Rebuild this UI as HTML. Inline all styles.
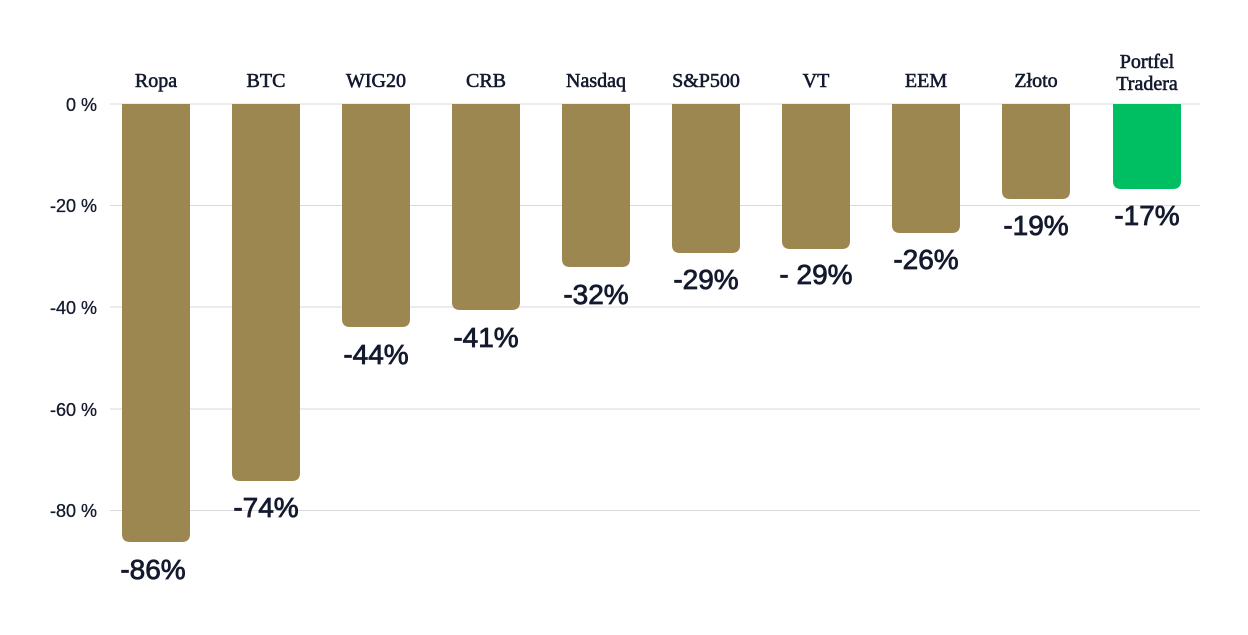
<!DOCTYPE html>
<html><head><style>body{margin:0;background:#fff}</style></head><body>
<svg width="1248" height="630" xmlns="http://www.w3.org/2000/svg" font-family="Liberation Sans, sans-serif">
<g stroke="#d9d9df" stroke-width="1">
<line x1="110" y1="104" x2="1200" y2="104"/>
<line x1="110" y1="205.5" x2="1200" y2="205.5"/>
<line x1="110" y1="307" x2="1200" y2="307"/>
<line x1="110" y1="409" x2="1200" y2="409"/>
<line x1="110" y1="510.5" x2="1200" y2="510.5"/>
</g>
<g fill="#141a2e" font-size="18" text-anchor="end" stroke="#141a2e" stroke-width="0.3">
<text x="97" y="111">0 %</text>
<text x="97" y="212">-20 %</text>
<text x="97" y="314">-40 %</text>
<text x="97" y="416">-60 %</text>
<text x="97" y="517">-80 %</text>
</g>
<g fill="#9c8750">
<path d="M122 104H190V534Q190 542 182 542H130Q122 542 122 534Z"/>
<path d="M232 104H300V473Q300 481 292 481H240Q232 481 232 473Z"/>
<path d="M342 104H410V319Q410 327 402 327H350Q342 327 342 319Z"/>
<path d="M452 104H520V302Q520 310 512 310H460Q452 310 452 302Z"/>
<path d="M562 104H630V259Q630 267 622 267H570Q562 267 562 259Z"/>
<path d="M672 104H740V245Q740 253 732 253H680Q672 253 672 245Z"/>
<path d="M782 104H850V241Q850 249 842 249H790Q782 249 782 241Z"/>
<path d="M892 104H960V225Q960 233 952 233H900Q892 233 892 225Z"/>
<path d="M1002 104H1070V191Q1070 199 1062 199H1010Q1002 199 1002 191Z"/>
</g>
<path fill="#00bf63" d="M1113 104H1181V181Q1181 189 1173 189H1121Q1113 189 1113 181Z"/>
<g fill="#141a2e" font-family="Liberation Serif, serif" font-size="20" text-anchor="middle" stroke="#141a2e" stroke-width="0.6">
<text x="156" y="87">Ropa</text>
<text x="266" y="87">BTC</text>
<text x="376" y="87">WIG20</text>
<text x="486" y="87">CRB</text>
<text x="596" y="87">Nasdaq</text>
<text x="706" y="87">S&amp;P500</text>
<text x="816" y="87">VT</text>
<text x="926" y="87">EEM</text>
<text x="1036" y="87">Złoto</text>
<text x="1147" y="68">Portfel</text>
<text x="1147" y="90">Tradera</text>
</g>
<g fill="#141a2e" font-size="28" text-anchor="middle" stroke="#141a2e" stroke-width="0.8">
<text x="153" y="579">-86%</text>
<text x="266" y="517">-74%</text>
<text x="376" y="364">-44%</text>
<text x="486" y="347">-41%</text>
<text x="596" y="304">-32%</text>
<text x="706" y="289">-29%</text>
<text x="816" y="284">- 29%</text>
<text x="926" y="269">-26%</text>
<text x="1036" y="235">-19%</text>
<text x="1147" y="225">-17%</text>
</g>
</svg>
</body></html>
